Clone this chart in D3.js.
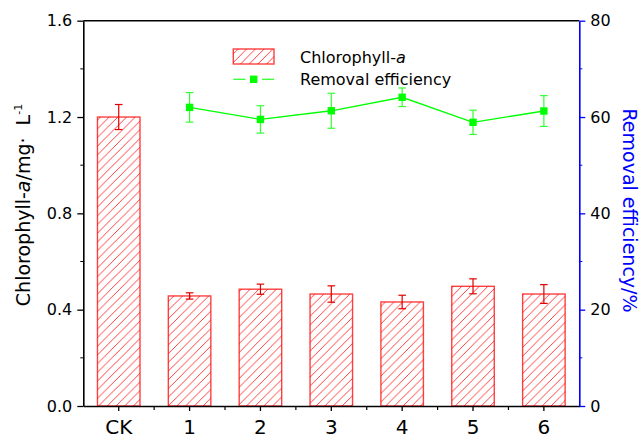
<!DOCTYPE html>
<html>
<head>
<meta charset="utf-8">
<script src="https://cdn.jsdelivr.net/npm/d3@7"></script>
<style>
  body { margin: 0; background: #fff; }
  text { font-family: "DejaVu Sans", sans-serif; }
</style>
</head>
<body>
<div id="chart-container"></div>
<script>
// data
const categories = ['CK', '1', '2', '3', '4', '5', '6'];
const chlValues = [1.20, 0.457, 0.485, 0.465, 0.432, 0.497, 0.465];
const chlErrors = [0.052, 0.013, 0.021, 0.034, 0.028, 0.031, 0.039];
const removalCats = ['1', '2', '3', '4', '5', '6'];
const removalValues = [62.0, 59.5, 61.3, 64.1, 58.9, 61.25];
const removalErrors = [3.07, 2.84, 3.63, 1.93, 2.52, 3.2];
const leftTicks = [0, 0.4, 0.8, 1.2, 1.6];
const leftMinor = [0.2, 0.6, 1.0, 1.4];
const rightTicks = [0, 20, 40, 60, 80];
const rightMinor = [10, 30, 50, 70];

const width = 641;
const height = 438;
const margin = { top: 20.7, right: 61.7, bottom: 32, left: 83.3 };

const svg = d3.select('#chart-container')
              .append('svg')
              .attr('width', width)
              .attr('height', height);

const red = '#ff0000';
const green = '#00ff00';
const blue = '#0000ff';

// hatch pattern for the bars
const s = 8.7;
svg.append('defs')
   .append('pattern')
     .attr('id', 'hatch')
     .attr('patternUnits', 'userSpaceOnUse')
     .attr('width', s)
     .attr('height', s)
   .append('path')
     .attr('d', `M0,${s} L${s},0 M-1,1 L1,-1 M${s - 1},${s + 1} L${s + 1},${s - 1}`)
     .attr('stroke', '#ff2a2a')
     .attr('stroke-width', 0.9);

// scales
const x = d3.scaleBand()
            .domain(categories)
            .range([margin.left, width - margin.right])
            .paddingInner(0.4)
            .paddingOuter(0.2);

const y = d3.scaleLinear()
            .domain([0, 1.6])
            .range([height - margin.bottom, margin.top]);

const y2 = d3.scaleLinear()
             .domain([0, 80])
             .range([height - margin.bottom, margin.top]);

const x0 = margin.left, x1 = width - margin.right;
const yb = height - margin.bottom, yt = margin.top;

// bars
svg.append('g')
   .selectAll('rect')
   .data(categories)
   .join('rect')
     .attr('x', d => x(d))
     .attr('y', (d, i) => y(chlValues[i]))
     .attr('width', x.bandwidth())
     .attr('height', (d, i) => y(0) - y(chlValues[i]))
     .attr('fill', 'url(#hatch)')
     .attr('stroke', red)
     .attr('stroke-opacity', 0.75)
     .attr('stroke-width', 1.4);

// bar error bars
const barErr = svg.append('g').attr('stroke', '#e00000').attr('stroke-width', 1.2);
categories.forEach((c, i) => {
  const cx = x(c) + x.bandwidth() / 2;
  const lo = y(chlValues[i] - chlErrors[i]);
  const hi = y(chlValues[i] + chlErrors[i]);
  barErr.append('line').attr('x1', cx).attr('x2', cx).attr('y1', lo).attr('y2', hi);
  barErr.append('line').attr('x1', cx - 3.8).attr('x2', cx + 3.8).attr('y1', lo).attr('y2', lo);
  barErr.append('line').attr('x1', cx - 3.8).attr('x2', cx + 3.8).attr('y1', hi).attr('y2', hi);
});

// removal efficiency line
const cxOf = c => x(c) + x.bandwidth() / 2;
svg.append('path')
   .datum(removalCats)
   .attr('fill', 'none')
   .attr('stroke', green)
   .attr('stroke-width', 1.3)
   .attr('d', d3.line().x(d => cxOf(d)).y((d, i) => y2(removalValues[i])));

const remErr = svg.append('g').attr('stroke', '#33ff33').attr('stroke-width', 1.2);
removalCats.forEach((c, i) => {
  const cx = cxOf(c);
  const lo = y2(removalValues[i] - removalErrors[i]);
  const hi = y2(removalValues[i] + removalErrors[i]);
  remErr.append('line').attr('x1', cx).attr('x2', cx).attr('y1', lo).attr('y2', hi);
  remErr.append('line').attr('x1', cx - 3.8).attr('x2', cx + 3.8).attr('y1', lo).attr('y2', lo);
  remErr.append('line').attr('x1', cx - 3.8).attr('x2', cx + 3.8).attr('y1', hi).attr('y2', hi);
});

svg.append('g')
   .selectAll('rect')
   .data(removalCats)
   .join('rect')
     .attr('x', d => cxOf(d) - 3.7)
     .attr('y', (d, i) => y2(removalValues[i]) - 3.7)
     .attr('width', 7.4)
     .attr('height', 7.4)
     .attr('fill', green);

// frame: top line
svg.append('line')
   .attr('x1', x0).attr('x2', x1).attr('y1', yt).attr('y2', yt)
   .attr('stroke', '#000').attr('stroke-width', 1.5);

// left axis
const gl = svg.append('g').attr('transform', `translate(${x0},0)`);
gl.call(d3.axisLeft(y).tickValues(leftTicks).tickFormat(d3.format('.1f')).tickSize(6).tickPadding(5).tickSizeOuter(0));
gl.append('g').selectAll('line').data(leftMinor).join('line')
  .attr('x1', -3).attr('x2', 0).attr('y1', d => y(d)).attr('y2', d => y(d)).attr('stroke', '#000');
gl.select('.domain').attr('stroke-width', 1.6);
gl.selectAll('.tick line').attr('stroke-width', 1.3);
gl.selectAll('text').attr('font-size', 16).attr('fill', '#000').style('font-family', '"DejaVu Sans", sans-serif');

// right axis
const gr = svg.append('g').attr('transform', `translate(${x1},0)`);
gr.call(d3.axisRight(y2).tickValues(rightTicks).tickSize(6).tickPadding(5).tickSizeOuter(0));
gr.append('g').selectAll('line').data(rightMinor).join('line')
  .attr('x1', 0).attr('x2', 3).attr('y1', d => y2(d)).attr('y2', d => y2(d)).attr('stroke', blue);
gr.select('.domain').attr('stroke', blue).attr('stroke-width', 1.6);
gr.selectAll('.tick line').attr('stroke', blue).attr('stroke-width', 1.3);
gr.selectAll('text').attr('font-size', 16).attr('fill', '#000').style('font-family', '"DejaVu Sans", sans-serif');

// bottom axis
const gb = svg.append('g').attr('transform', `translate(0,${yb})`);
gb.call(d3.axisBottom(x).tickSize(5).tickPadding(9).tickSizeOuter(0));
gb.select('.domain').attr('stroke-width', 1.6);
gb.selectAll('.tick line').attr('stroke-width', 1.3);
gb.selectAll('text').attr('font-size', 20).attr('fill', '#000').style('font-family', '"DejaVu Sans", sans-serif');
// minor ticks at band edges
gb.append('g').selectAll('line').data(categories.slice(1)).join('line')
  .attr('x1', d => x(d) - x.step() * x.paddingInner() / 2)
  .attr('x2', d => x(d) - x.step() * x.paddingInner() / 2)
  .attr('y1', 0).attr('y2', 4).attr('stroke', '#000').attr('stroke-width', 1.2);

// axis titles
const tl = svg.append('text')
   .attr('transform', 'translate(29.5,205) rotate(-90)')
   .attr('text-anchor', 'middle')
   .attr('font-size', 19);
tl.append('tspan').text('Chlorophyll-');
tl.append('tspan').attr('font-style', 'italic').text('a');
tl.append('tspan').text('/mg·\u00a0\u00a0L');
tl.append('tspan').attr('font-size', 11).attr('dy', -8).text('-1');

svg.append('text')
   .attr('transform', 'translate(623,210.5) rotate(90)')
   .attr('text-anchor', 'middle')
   .attr('font-size', 19)
   .attr('fill', blue)
   .text('Removal efficiency/%');

// legend
const lg = svg.append('g');
lg.append('rect')
  .attr('x', 233.3).attr('y', 49).attr('width', 40.7).attr('height', 15)
  .attr('fill', 'url(#hatch)').attr('stroke', red).attr('stroke-opacity', 0.75).attr('stroke-width', 1.4);
const lt = lg.append('text').attr('x', 300).attr('y', 62.5).attr('font-size', 16);
lt.append('tspan').text('Chlorophyll-');
lt.append('tspan').attr('font-style', 'italic').text('a');

lg.append('line').attr('x1', 233.3).attr('x2', 245.5).attr('y1', 79.3).attr('y2', 79.3)
  .attr('stroke', '#33ff33').attr('stroke-width', 1.3);
lg.append('line').attr('x1', 262).attr('x2', 274).attr('y1', 79.3).attr('y2', 79.3)
  .attr('stroke', '#33ff33').attr('stroke-width', 1.3);
lg.append('rect').attr('x', 250).attr('y', 75.6).attr('width', 7.4).attr('height', 7.4).attr('fill', green);
lg.append('text').attr('x', 300).attr('y', 85).attr('font-size', 16).text('Removal efficiency');
</script>
</body>
</html>
